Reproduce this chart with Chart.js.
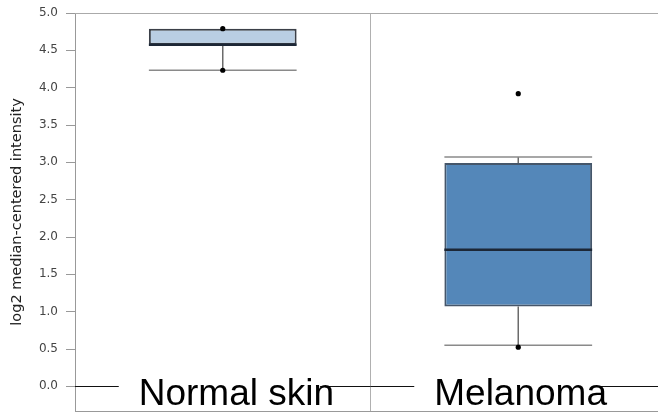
<!DOCTYPE html>
<html>
<head>
<meta charset="utf-8">
<script src="https://cdn.jsdelivr.net/npm/chart.js@4.4.1/dist/chart.umd.min.js"></script>
<style>
  html, body { margin: 0; padding: 0; background: #fff; overflow: hidden; }
  #wrap { width: 658px; height: 413px; overflow: hidden; }
</style>
</head>
<body>
<div id="wrap"><canvas id="c" width="670" height="415"></canvas></div>
<script>
// Box-plot summary per group
const categories = ['Normal skin', 'Melanoma'];
const q1 = [4.575, 1.07];
const q3 = [4.79, 2.99];
const medians = [4.575, 1.83];
const whiskerLow = [4.233, 0.55];
const whiskerHigh = [4.79, 3.07];
// Individual points shown as dots
const pointGroups = ['Normal skin', 'Normal skin', 'Melanoma', 'Melanoma'];
const pointValues = [4.79, 4.233, 3.92, 0.525];
const yTicks = [0, 0.5, 1, 1.5, 2, 2.5, 3, 3.5, 4, 4.5, 5];

const boxFill = ['#b9cee3', '#5487b9'];
const boxEdge = ['#3b4048', '#45566a'];

const boxPlotExtras = {
  id: 'boxPlotExtras',
  beforeDatasetsDraw(chart) {
    const { ctx, scales: { y } } = chart;
    const meta = chart.getDatasetMeta(1);
    ctx.save();
    meta.data.forEach((bar, i) => {
      const cx = bar.x, half = bar.width / 2;
      const yLo = y.getPixelForValue(whiskerLow[i]);
      const yHi = y.getPixelForValue(whiskerHigh[i]);
      const yQ1 = y.getPixelForValue(q1[i]);
      const yQ3 = y.getPixelForValue(q3[i]);
      ctx.strokeStyle = '#6b6b6b';
      ctx.lineWidth = 1.5;
      ctx.beginPath();
      ctx.moveTo(cx, yQ1); ctx.lineTo(cx, yLo);
      ctx.moveTo(cx, yQ3); ctx.lineTo(cx, yHi);
      ctx.stroke();
      ctx.strokeStyle = '#8a8a8a';
      ctx.beginPath();
      ctx.moveTo(cx - half, yLo); ctx.lineTo(cx + half, yLo);
      if (whiskerHigh[i] > q3[i]) { ctx.moveTo(cx - half, yHi); ctx.lineTo(cx + half, yHi); }
      ctx.stroke();
    });
    ctx.restore();
  },
  afterDatasetDraw(chart, args) {
    if (args.index !== 1) return;
    const { ctx, scales: { y } } = chart;
    ctx.save();
    args.meta.data.forEach((bar, i) => {
      const half = bar.width / 2;
      const ym = y.getPixelForValue(medians[i]);
      ctx.strokeStyle = '#1c2736';
      ctx.lineWidth = 2.5;
      ctx.beginPath();
      ctx.moveTo(bar.x - half, ym); ctx.lineTo(bar.x + half, ym);
      ctx.stroke();
    });
    ctx.restore();
  },
  afterDraw(chart) {
    const { ctx, chartArea: a, scales: { x, y } } = chart;
    ctx.save();
    // frame top edge
    ctx.strokeStyle = '#aaaaaa';
    ctx.lineWidth = 1;
    ctx.beginPath();
    ctx.moveTo(a.left, Math.round(a.top) + 0.5); ctx.lineTo(a.right, Math.round(a.top) + 0.5);
    ctx.stroke();
    // zero reference line
    const y0 = Math.round(y.getPixelForValue(0)) + 0.5;
    ctx.strokeStyle = '#111';
    ctx.beginPath();
    ctx.moveTo(a.left, y0); ctx.lineTo(a.right, y0);
    ctx.stroke();
    // group names over the zero line
    ctx.font = '37px "Liberation Sans", Arial, sans-serif';
    ctx.textBaseline = 'alphabetic';
    ctx.textAlign = 'left';
    categories.forEach((name, i) => {
      const cx = x.getPixelForValue(i);
      const w = ctx.measureText(name).width;
      const left = cx - 84;
      ctx.fillStyle = '#fff';
      ctx.fillRect(left - 20, y0 - 3, w + 6, 6);
      ctx.fillStyle = '#000';
      ctx.fillText(name, left, 405);
    });
    ctx.restore();
  }
};

new Chart(document.getElementById('c'), {
  data: {
    labels: categories,
    datasets: [
      {
        type: 'scatter',
        order: 0,
        data: pointGroups.map((g, i) => ({ x: g, y: pointValues[i] })),
        pointRadius: 2.6,
        pointBackgroundColor: '#000',
        pointBorderWidth: 0,
        showLine: false
      },
      {
        type: 'bar',
        order: 1,
        data: categories.map((c, i) => [q1[i], q3[i]]),
        backgroundColor: boxFill,
        borderColor: boxEdge,
        borderWidth: 2,
        borderSkipped: false,
        barPercentage: 1,
        categoryPercentage: 0.5
      }
    ]
  },
  options: {
    responsive: false,
    animation: false,
    events: [],
    layout: { padding: { top: 13, right: 3, bottom: 0, left: 0 } },
    plugins: { legend: { display: false }, tooltip: { enabled: false } },
    scales: {
      x: {
        type: 'category',
        offset: true,
        ticks: { display: false },
        grid: { color: '#b0b0b0', drawTicks: false, offset: true },
        border: { color: '#999', width: 1 },
        afterFit(axis) { axis.height = 0; axis.paddingLeft = 0; axis.paddingRight = 0; }
      },
      y: {
        type: 'linear',
        min: -0.33,
        max: 5,
        afterBuildTicks(axis) { axis.ticks = yTicks.map(v => ({ value: v })); },
        ticks: {
          padding: 8,
          color: '#444',
          font: { family: 'DejaVu Sans', size: 12 },
          callback: v => v.toFixed(1)
        },
        grid: { drawOnChartArea: false, tickLength: 9, color: '#999' },
        border: { color: '#999', width: 1 },
        title: {
          display: true,
          text: 'log2 median-centered intensity',
          color: '#222',
          font: { family: 'DejaVu Sans', size: 14.5 },
          padding: { top: 9, bottom: 0 }
        },
        afterFit(axis) { axis.width = 75; axis.paddingTop = 0; axis.paddingBottom = 0; }
      }
    }
  },
  plugins: [boxPlotExtras]
});
</script>
</body>
</html>
